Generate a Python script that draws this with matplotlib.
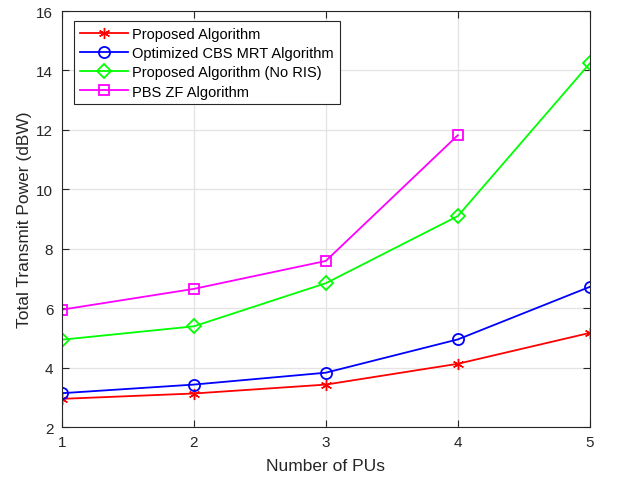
import numpy as np
import matplotlib
matplotlib.use('Agg')
import matplotlib.pyplot as plt

num_pus = [1, 2, 3, 4, 5]
proposed = [2.95, 3.13, 3.43, 4.13, 5.17]
cbs_mrt = [3.14, 3.43, 3.83, 4.95, 6.72]
no_ris = [4.94, 5.39, 6.84, 9.10, 14.24]
pbs_zf_pus = [1, 2, 3, 4]
pbs_zf = [5.95, 6.65, 7.59, 11.82]

labels = ['Proposed Algorithm', 'Optimized CBS MRT Algorithm',
          'Proposed Algorithm (No RIS)', 'PBS ZF Algorithm']

def main():
    plt.rcParams['font.family'] = ['Liberation Sans', 'DejaVu Sans']
    fig = plt.figure(figsize=(6.17, 4.81), dpi=100)
    ax = fig.add_axes([0.100, 0.110, 0.856, 0.865])

    lw = 1.3
    ax.plot(num_pus, proposed, color='#ff0000', marker=(6, 2, 0), markersize=8,
            linewidth=lw, label=labels[0])
    ax.plot(num_pus, cbs_mrt, color='#0000ff', marker='o', markersize=8,
            mfc='none', mew=1.3, linewidth=lw, label=labels[1])
    ax.plot(num_pus, no_ris, color='#00ff00', marker='D', markersize=7,
            mfc='none', mew=1.3, linewidth=lw, label=labels[2])
    ax.plot(pbs_zf_pus, pbs_zf, color='#ff00ff', marker='s', markersize=6.5,
            mfc='none', mew=1.3, linewidth=lw, label=labels[3])

    ax.set_xlim(1, 5)
    ax.set_ylim(2, 16)
    ax.set_xticks(np.arange(1, 6))
    ax.set_yticks(np.arange(2, 17, 2))
    ax.grid(True, color='#e3e3e3', linewidth=0.9)
    ax.set_axisbelow(True)

    for s in ax.spines.values():
        s.set_color('#262626')
        s.set_linewidth(0.8)
    ax.tick_params(direction='in', top=True, right=True, length=5,
                   labelsize=11, colors='#262626', pad=6)

    ax.set_xlabel('Number of PUs', fontsize=12.5, color='#262626', labelpad=6)
    ax.set_ylabel('Total Transmit Power (dBW)', fontsize=12.5, color='#262626', labelpad=3)

    leg = ax.legend(loc='upper left', bbox_to_anchor=(0.023, 0.975), fontsize=10.5,
                    fancybox=False, framealpha=1, edgecolor='#262626',
                    handlelength=3.3, handletextpad=0.3, labelspacing=0.35,
                    borderpad=0.4, borderaxespad=0)
    leg.get_frame().set_linewidth(0.8)

    fig.savefig('out.png', dpi=100)

if __name__ == '__main__':
    main()
